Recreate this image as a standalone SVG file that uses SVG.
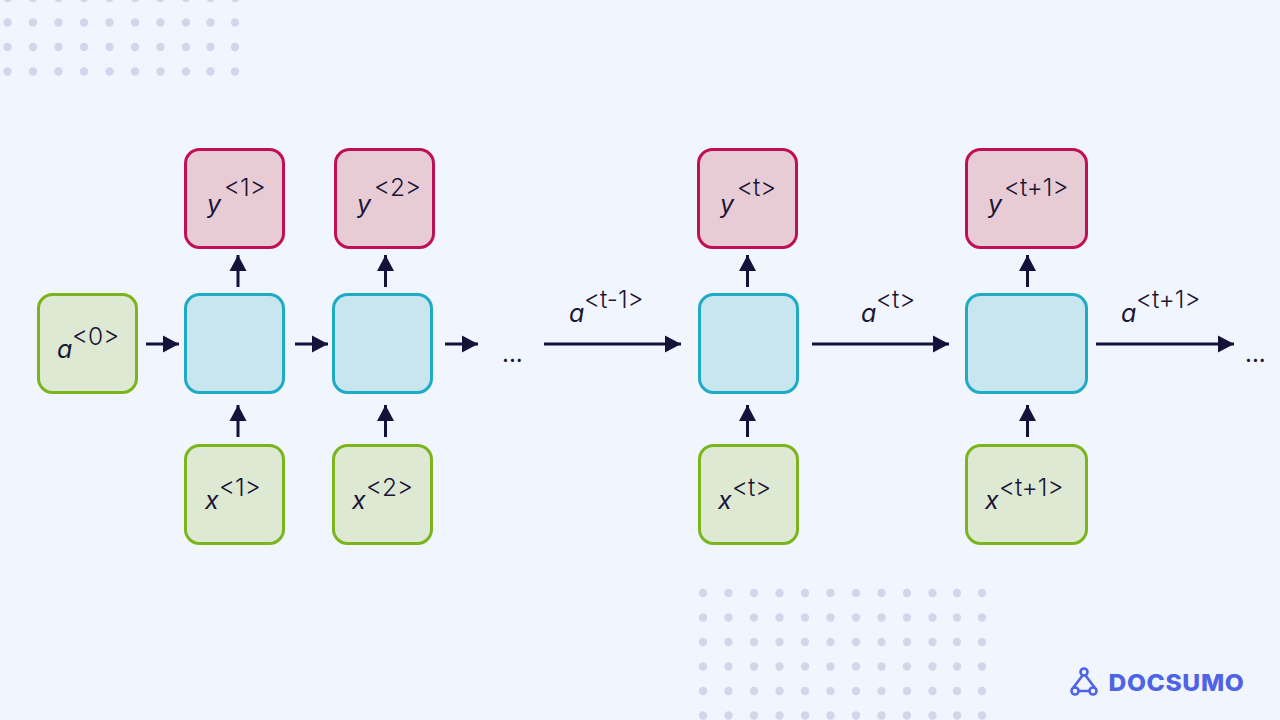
<svg xmlns="http://www.w3.org/2000/svg" width="1280" height="720" viewBox="0 0 1280 720">
<style>
.g{fill:#dde9d2;stroke:#7ab51d}
.b{fill:#c7e6ef;stroke:#1fabc4}
.r{fill:#e8ccd5;stroke:#c10f56}
rect{stroke-width:3}
text{font-family:Inter,"Noto Sans",sans-serif;fill:#1a1535}
.v{font-size:25px;font-style:italic}
.s{font-size:24.500px;font-weight:300}
.e{font-size:24px}
.c{stroke:#16113a;stroke-width:3;fill:none;marker-end:url(#ah)}
.d{fill:#d3d6ea}
</style>
<defs>
<marker id="ah" markerUnits="userSpaceOnUse" markerWidth="17" markerHeight="18" refX="16" refY="9" orient="auto" overflow="visible"><path d="M0,0.500L16,9L0,17.500Z" fill="#16113a"/></marker>
<circle id="dot" class="d" r="4.200"/>
<g id="dr10"><use href="#dot" x="7.500"/><use href="#dot" x="33"/><use href="#dot" x="58.500"/><use href="#dot" x="84"/><use href="#dot" x="109.500"/><use href="#dot" x="135"/><use href="#dot" x="160.500"/><use href="#dot" x="186"/><use href="#dot" x="210.500"/><use href="#dot" x="235"/></g>
<g id="dr12"><use href="#dot" x="703"/><use href="#dot" x="728.500"/><use href="#dot" x="754"/><use href="#dot" x="779.500"/><use href="#dot" x="805"/><use href="#dot" x="830.500"/><use href="#dot" x="856"/><use href="#dot" x="881.500"/><use href="#dot" x="907"/><use href="#dot" x="932.500"/><use href="#dot" x="957"/><use href="#dot" x="982"/></g>
</defs>
<rect width="1280" height="720" fill="#f1f5fe" style="stroke:none"/>
<g id="dots">
<use href="#dr10" y="-2"/><use href="#dr10" y="22.500"/><use href="#dr10" y="47"/><use href="#dr10" y="71.500"/>
<use href="#dr12" y="593"/><use href="#dr12" y="617.500"/><use href="#dr12" y="642"/><use href="#dr12" y="666.500"/><use href="#dr12" y="691"/><use href="#dr12" y="715.500"/>
</g>
<g id="connectors">
<path class="c" d="M146,344H179"/>
<path class="c" d="M295,344H328"/>
<path class="c" d="M445,344H478"/>
<path class="c" d="M544,344H681"/>
<path class="c" d="M812,344H949"/>
<path class="c" d="M1096,344H1234"/>
<path class="c" d="M238,287V255"/>
<path class="c" d="M385.500,287V255"/>
<path class="c" d="M747.500,287V255"/>
<path class="c" d="M1027.500,287V255"/>
<path class="c" d="M238,437V405"/>
<path class="c" d="M385.500,437V405"/>
<path class="c" d="M747.500,437V405"/>
<path class="c" d="M1027.500,437V405"/>
</g>
<g id="a0"><rect class="g" x="38.500" y="294.500" width="98" height="98" rx="14"/><text class="v" x="57" y="358">a</text><text class="s" x="72" y="345">&lt;0&gt;</text></g>
<g id="cell1"><rect class="b" x="185.500" y="294.500" width="98" height="98" rx="14"/></g>
<g id="cell2"><rect class="b" x="333.500" y="294.500" width="98" height="98" rx="14"/></g>
<g id="cellt"><rect class="b" x="699.500" y="294.500" width="98" height="98" rx="14"/></g>
<g id="cellt1"><rect class="b" x="966.500" y="294.500" width="120" height="98" rx="14"/></g>
<g id="y1"><rect class="r" x="185.500" y="149.500" width="98" height="98" rx="14"/><text class="v" x="207" y="213">y</text><text class="s" x="224" y="196">&lt;1&gt;</text></g>
<g id="y2"><rect class="r" x="335.500" y="149.500" width="98" height="98" rx="14"/><text class="v" x="357" y="213">y</text><text class="s" x="374" y="196">&lt;2&gt;</text></g>
<g id="yt"><rect class="r" x="698.500" y="149.500" width="98" height="98" rx="14"/><text class="v" x="720" y="213">y</text><text class="s" x="737" y="196">&lt;t&gt;</text></g>
<g id="yt1"><rect class="r" x="966.500" y="149.500" width="120" height="98" rx="14"/><text class="v" x="988" y="213">y</text><text class="s" x="1004" y="196">&lt;t+1&gt;</text></g>
<g id="x1"><rect class="g" x="185.500" y="445.500" width="98" height="98" rx="14"/><text class="v" x="205" y="509">x</text><text class="s" x="219" y="496">&lt;1&gt;</text></g>
<g id="x2"><rect class="g" x="333.500" y="445.500" width="98" height="98" rx="14"/><text class="v" x="352" y="509">x</text><text class="s" x="366" y="496">&lt;2&gt;</text></g>
<g id="xt"><rect class="g" x="699.500" y="445.500" width="98" height="98" rx="14"/><text class="v" x="718" y="509">x</text><text class="s" x="732" y="496">&lt;t&gt;</text></g>
<g id="xt1"><rect class="g" x="966.500" y="445.500" width="120" height="98" rx="14"/><text class="v" x="985" y="509">x</text><text class="s" x="999" y="496">&lt;t+1&gt;</text></g>
<g id="labels">
<text class="v" x="569" y="322">a</text><text class="s" x="584" y="308">&lt;t-1&gt;</text>
<text class="v" x="861" y="322">a</text><text class="s" x="876" y="308">&lt;t&gt;</text>
<text class="v" x="1121" y="322">a</text><text class="s" x="1136" y="308">&lt;t+1&gt;</text>
<text class="e" x="502" y="362">...</text>
<text class="e" x="1245" y="362">...</text>
</g>
<g id="logo">
<g fill="none" stroke="#4f63e7" stroke-width="2.600">
<circle cx="1084" cy="672" r="3.500"/><circle cx="1075" cy="691" r="3.500"/><circle cx="1093" cy="691" r="3.500"/>
<path d="M1082.500,675.500L1073,688M1085.500,675.500L1095,688M1078.500,691H1089.500"/>
</g>
<text transform="translate(1108.500,691) scale(1.07,1)" style="font-family:Inter,sans-serif;font-weight:800;font-size:23px;letter-spacing:.6px;fill:#4f63e7">DOCSUMO</text>
</g>
</svg>
